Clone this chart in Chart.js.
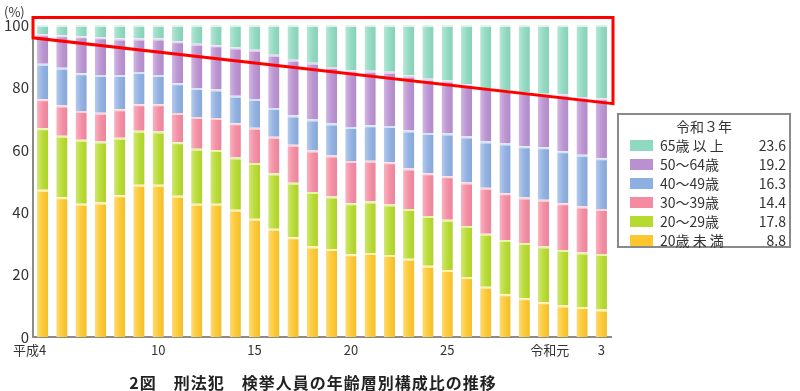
<!DOCTYPE html>
<html lang="ja">
<head>
<meta charset="utf-8">
<script src="https://cdn.jsdelivr.net/npm/chart.js@4.4.1/dist/chart.umd.min.js"></script>
<style>
  html, body { margin: 0; padding: 0; background: #fff; }
  #wrap { position: relative; width: 800px; height: 391px; font-family: "Noto Sans CJK JP", "Noto Sans", sans-serif; color: #333; }
  #unit { position: absolute; left: 4px; top: 2px; font-size: 13px; }
  #legend { position: absolute; left: 617px; top: 113px; width: 174px; height: 135px; border: 2px solid #8a8a8a; box-sizing: border-box; font-size: 14px; }
  #legend .ttl { text-align: center; margin-top: 1px; height: 20px; line-height: 20px; }
  #legend .row { position: relative; height: 19px; line-height: 19px; }
  #legend .sw { position: absolute; left: 11px; top: 4px; width: 23px; height: 11px; }
  #legend .lb { position: absolute; left: 41px; }
  #legend .vl { position: absolute; right: 3px; }
  #caption { position: absolute; left: 0; width: 626px; top: 370px; text-align: center; font-size: 16px; font-weight: bold; letter-spacing: 1px; color: #222; }
</style>
</head>
<body>
<div id="wrap">
  <canvas id="barChart" width="800" height="391"></canvas>
  <div id="unit">(%)</div>
  <div id="legend"></div>
  <div id="caption">2図　刑法犯　検挙人員の年齢層別構成比の推移</div>
</div>
<script>
// 平成4年 ～ 令和3年
var years = ['平成4', '5', '6', '7', '8', '9', '10', '11', '12', '13', '14', '15', '16', '17', '18',
    '19', '20', '21', '22', '23', '24', '25', '26', '27', '28', '29', '30', '令和元', '2', '3'];
var tickNums = {0: '4', 6: '10', 11: '15', 16: '20', 21: '25', 27: '元', 29: '3'};
var tickEra = {0: '平成', 27: '令和'};

var under20 = [47.2, 44.8, 42.7, 43.1, 45.4, 48.8, 48.8, 45.3, 42.7, 42.7, 40.8, 37.9, 34.7, 32.0, 29.0,
    28.2, 26.5, 26.9, 26.3, 25.1, 22.8, 21.5, 19.2, 16.1, 13.7, 12.4, 11.1, 10.1, 9.6, 8.8];
var age20s = [19.7, 19.7, 20.5, 19.6, 18.5, 17.3, 17.1, 17.1, 17.6, 17.2, 16.7, 17.9, 17.7, 17.4, 17.5,
    16.8, 16.4, 16.5, 16.2, 15.9, 16.0, 16.1, 16.4, 17.0, 17.4, 17.7, 17.9, 17.8, 17.5, 17.8];
var age30s = [9.3, 9.7, 9.2, 9.2, 9.1, 8.5, 8.7, 9.4, 10.2, 10.3, 11.0, 11.3, 11.8, 12.2, 13.3,
    13.2, 13.5, 13.1, 13.5, 13.0, 13.7, 13.9, 13.9, 14.7, 15.0, 14.6, 15.0, 15.0, 14.7, 14.4];
var age40s = [11.4, 12.1, 12.1, 12.1, 11.0, 10.3, 9.4, 9.5, 9.3, 9.1, 8.8, 9.2, 9.2, 9.4, 9.9,
    10.2, 10.9, 11.4, 11.6, 12.2, 12.9, 13.7, 14.8, 14.9, 15.9, 16.4, 16.8, 16.6, 16.6, 16.3];
var age50s = [9.4, 10.4, 11.9, 12.1, 11.7, 10.8, 11.7, 13.5, 14.2, 14.2, 15.5, 15.8, 17.1, 17.9, 18.2,
    18.1, 18.1, 17.4, 17.4, 17.6, 17.4, 17.0, 16.6, 17.1, 17.1, 17.3, 17.2, 18.2, 18.5, 19.2];
var over65 = [3.0, 3.3, 3.6, 3.9, 4.3, 4.3, 4.3, 5.2, 6.0, 6.5, 7.2, 7.9, 9.5, 11.1, 12.1,
    13.5, 14.6, 14.7, 15.0, 16.2, 17.2, 17.8, 19.1, 20.2, 20.9, 21.6, 22.0, 22.3, 23.1, 23.6];

var seriesNames = ['20歳未満', '20～29歳', '30～39歳', '40～49歳', '50～64歳', '65歳以上'];
var seriesData = [under20, age20s, age30s, age40s, age50s, over65];
var fillColors = ['#fdc72e', '#b7da2e', '#f48ba1', '#8eafe1', '#b991d1', '#8fd9c1'];
var edgeColors = ['#fff0b0', '#e6f6a8', '#fdd3dc', '#d6e4f8', '#ead6f3', '#daf5ec'];

// red frame drawn round the 65+ band (y values in %)
var frameTop = 102.4;
var frameLeftLow = 95.9;
var frameRightLow = 74.8;

var datasets = seriesData.map(function (d, i) {
    return {
        label: seriesNames[i],
        data: d,
        backgroundColor: fillColors[i],
        borderColor: edgeColors[i],
        borderWidth: {top: 2, bottom: 0, left: 0, right: 0},
        borderSkipped: false,
        barPercentage: 0.58,
        categoryPercentage: 1.0
    };
});

var extras = {
    id: 'extras',
    afterDatasetsDraw: function (chart) {
        // soft sheen on each bar, lighter on the left
        var c = chart.ctx;
        c.save();
        chart.data.datasets.forEach(function (ds, di) {
            chart.getDatasetMeta(di).data.forEach(function (bar) {
                var half = bar.width / 2;
                var g = c.createLinearGradient(bar.x - half, 0, bar.x + half, 0);
                g.addColorStop(0, 'rgba(255,255,255,0.35)');
                g.addColorStop(0.5, 'rgba(255,255,255,0.05)');
                g.addColorStop(1, 'rgba(0,0,0,0.04)');
                c.fillStyle = g;
                c.fillRect(bar.x - half, bar.y + 2, bar.width, bar.base - bar.y - 2);
            });
        });
        c.restore();
    },
    afterDraw: function (chart) {
        var c = chart.ctx;
        var xs = chart.scales.x;
        var ys = chart.scales.y;
        // era prefix in front of the tick numbers
        c.save();
        c.font = '13px "Noto Sans CJK JP", sans-serif';
        c.fillStyle = '#333';
        c.textAlign = 'right';
        c.textBaseline = 'middle';
        Object.keys(tickEra).forEach(function (k) {
            var i = Number(k);
            var w = c.measureText(tickNums[i]).width;
            c.fillText(tickEra[i], xs.getPixelForValue(i) - w / 2, ys.bottom + 5 + 13 * 1.2 / 2);
        });
        // red frame
        c.strokeStyle = '#ff0000';
        c.lineWidth = 3;
        c.lineJoin = 'miter';
        c.beginPath();
        c.moveTo(xs.left, ys.getPixelForValue(frameTop));
        c.lineTo(xs.right + 2, ys.getPixelForValue(frameTop));
        c.lineTo(xs.right + 2, ys.getPixelForValue(frameRightLow));
        c.lineTo(xs.left, ys.getPixelForValue(frameLeftLow));
        c.closePath();
        c.stroke();
        c.restore();
    }
};

var ctx = document.getElementById('barChart').getContext('2d');
var myChart = new Chart(ctx, {
    type: 'bar',
    data: {
        labels: years,
        datasets: datasets
    },
    options: {
        responsive: false,
        animation: false,
        layout: {padding: {top: 25, right: 189, bottom: 0, left: 0}},
        plugins: {
            legend: {display: false},
            tooltip: {enabled: false}
        },
        scales: {
            x: {
                stacked: true,
                grid: {display: false, drawTicks: false},
                border: {display: true, color: '#8a8a8a', width: 2},
                ticks: {
                    autoSkip: false,
                    maxRotation: 0,
                    padding: 5,
                    color: '#333',
                    font: {family: '"Noto Sans CJK JP", sans-serif', size: 13},
                    callback: function (v, i) { return tickNums[i] || ''; }
                },
                afterFit: function (s) { s.height = 54; }
            },
            y: {
                stacked: true,
                min: 0,
                max: 100,
                grid: {display: false, drawTicks: false},
                border: {display: true, color: '#8a8a8a', width: 2},
                ticks: {
                    stepSize: 20,
                    padding: 4,
                    color: '#333',
                    font: {family: '"Noto Sans CJK JP", sans-serif', size: 15}
                },
                afterFit: function (s) { s.width = 33; }
            }
        }
    },
    plugins: [extras]
});

// legend box (令和3年 values)
var legend = document.getElementById('legend');
var html = '<div class="ttl">令和３年</div>';
for (var i = seriesNames.length - 1; i >= 0; i--) {
    var last = seriesData[i][seriesData[i].length - 1];
    var name = seriesNames[i] === '65歳以上' ? '65歳 以 上' : (seriesNames[i] === '20歳未満' ? '20歳 未 満' : seriesNames[i]);
    html += '<div class="row"><span class="sw" style="background:' + fillColors[i] + '"></span>' +
        '<span class="lb">' + name + '</span><span class="vl">' + last.toFixed(1) + '</span></div>';
}
legend.innerHTML = html;
</script>
</body>
</html>
